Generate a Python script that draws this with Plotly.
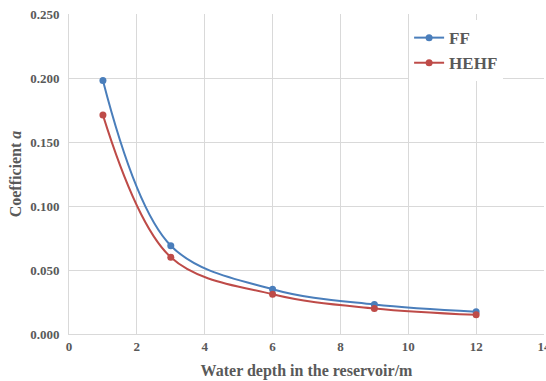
import plotly.graph_objects as go

depth = [1, 3, 6, 9, 12]
ff = [0.198, 0.069, 0.035, 0.023, 0.0174]
hehf = [0.171, 0.060, 0.031, 0.020, 0.015]

x_ticks = [0, 2, 4, 6, 8, 10, 12, 14]
y_ticks = [0.0, 0.05, 0.10, 0.15, 0.20, 0.25]
y_tick_text = ["0.000", "0.050", "0.100", "0.150", "0.200", "0.250"]

font_family = "Liberation Serif"
txt = "#595959"

fig = go.Figure()
fig.add_trace(go.Scatter(x=depth, y=ff, name="FF", mode="lines+markers",
                         line=dict(color="#4a7ebb", width=2, shape="spline", smoothing=1.0),
                         marker=dict(size=7, color="#4a7ebb")))
fig.add_trace(go.Scatter(x=depth, y=hehf, name="HEHF", mode="lines+markers",
                         line=dict(color="#be4b48", width=2, shape="spline", smoothing=1.0),
                         marker=dict(size=7, color="#be4b48")))

fig.update_layout(
    width=546, height=381,
    margin=dict(l=69, r=2, t=14, b=47, autoexpand=False),
    paper_bgcolor="white", plot_bgcolor="white",
    font=dict(family=font_family, color=txt),
    showlegend=True,
    legend=dict(x=0.716, y=0.981, xanchor="left", yanchor="top",
                bgcolor="white", borderwidth=0,
                font=dict(size=17, family=font_family, color=txt, weight="bold"),
                itemwidth=30),
    xaxis=dict(range=[0, 14], tickvals=x_ticks, ticktext=[str(v) for v in x_ticks],
               showgrid=True, gridcolor="#d9d9d9", gridwidth=1,
               showline=True, linecolor="#d9d9d9", linewidth=1, zeroline=False,
               ticks="", ticklabeloverflow="allow", automargin=False,
               tickfont=dict(size=13, family=font_family, color=txt, weight="bold"),
               title=dict(text="<b>Water depth in the reservoir/m</b>", standoff=12,
                          font=dict(size=16, family=font_family, color=txt))),
    yaxis=dict(range=[0, 0.25], tickvals=y_ticks, ticktext=y_tick_text,
               showgrid=True, gridcolor="#d9d9d9", gridwidth=1,
               showline=True, linecolor="#d9d9d9", linewidth=1, zeroline=False,
               ticks="", ticklabelstandoff=6, automargin=False,
               tickfont=dict(size=13, family=font_family, color=txt, weight="bold"),
               title=dict(text="<b>Coefficient <i>a</i></b>", standoff=4,
                          font=dict(size=16, family=font_family, color=txt))),
)

fig.write_html("out.html")
